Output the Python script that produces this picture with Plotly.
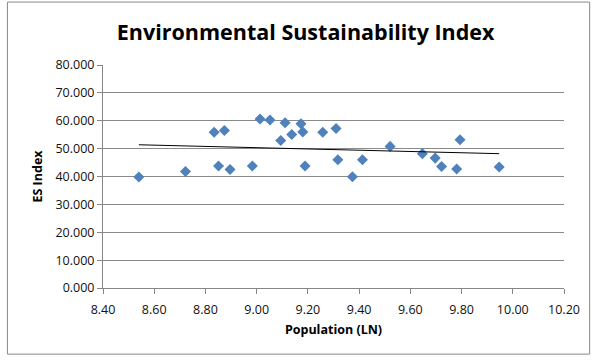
import numpy as np
import plotly.graph_objects as go

population_ln = [8.540, 8.722, 8.834, 8.851, 8.874, 8.896, 8.983, 9.013, 9.052, 9.094,
                 9.111, 9.137, 9.173, 9.180, 9.189, 9.258, 9.310, 9.317, 9.374, 9.413,
                 9.521, 9.647, 9.697, 9.722, 9.781, 9.794, 9.947]
es_index = [39.8, 41.8, 55.9, 43.8, 56.5, 42.5, 43.8, 60.6, 60.3, 52.9,
            59.3, 55.1, 58.9, 56.0, 43.8, 55.9, 57.2, 46.0, 39.9, 46.0,
            50.8, 48.2, 46.6, 43.6, 42.7, 53.2, 43.4]

x_ticks = [8.40, 8.60, 8.80, 9.00, 9.20, 9.40, 9.60, 9.80, 10.00, 10.20]
y_ticks = [0, 10, 20, 30, 40, 50, 60, 70, 80]

slope, intercept = np.polyfit(population_ln, es_index, 1)
trend_x = [min(population_ln), max(population_ln)]
trend_y = [slope * v + intercept for v in trend_x]

FONT = "Open Sans"
PW, PH = 461.6, 223.3
fig = go.Figure()
fig.add_trace(go.Scatter(x=population_ln, y=es_index, mode="markers",
                         marker=dict(symbol="diamond", size=8.5, color="#4F81BD",
                                     line=dict(width=0)),
                         showlegend=False))
fig.add_trace(go.Scatter(x=trend_x, y=trend_y, mode="lines",
                         line=dict(color="black", width=1), showlegend=False))

fig.update_layout(
    width=597, height=360,
    margin=dict(l=103, r=33, t=65, b=72),
    paper_bgcolor="white", plot_bgcolor="white",
    title=dict(text="<b>Environmental Sustainability Index</b>", x=0.512, xanchor="center",
               y=0.91, yanchor="middle",
               font=dict(family=FONT, size=21.5, color="black")),
    font=dict(family=FONT, size=12.5, color="#111111"),
    shapes=[dict(type="rect", xref="paper", yref="paper",
                 x0=-95.7/PW, x1=487.3/PW, y0=-66.2/PH, y1=286.3/PH,
                 line=dict(color="#888888", width=1))],
)
fig.update_xaxes(range=[8.4, 10.2], tickvals=x_ticks, tickformat=".2f", automargin=False,
                 showgrid=False, showline=True, linecolor="#868686", linewidth=1,
                 ticks="outside", ticklen=5, tickcolor="#868686", zeroline=False,
                 ticklabelstandoff=5,
                 title=dict(text="<b>Population (LN)</b>", font=dict(size=12.5, color="black"),
                            standoff=8))
fig.update_yaxes(range=[0, 80], tickvals=y_ticks, tickformat=".3f", automargin=False,
                 showgrid=True, gridcolor="#8a8a8a", gridwidth=1,
                 showline=True, linecolor="#868686", linewidth=1,
                 ticks="outside", ticklen=5, tickcolor="#868686", zeroline=False,
                 title=dict(text="<b>ES Index</b>", font=dict(size=12.5, color="black"),
                            standoff=10))

fig.write_html("out.html", config={"displayModeBar": False},
               post_script="document.body.style.margin='0';document.body.style.overflow='hidden';")
